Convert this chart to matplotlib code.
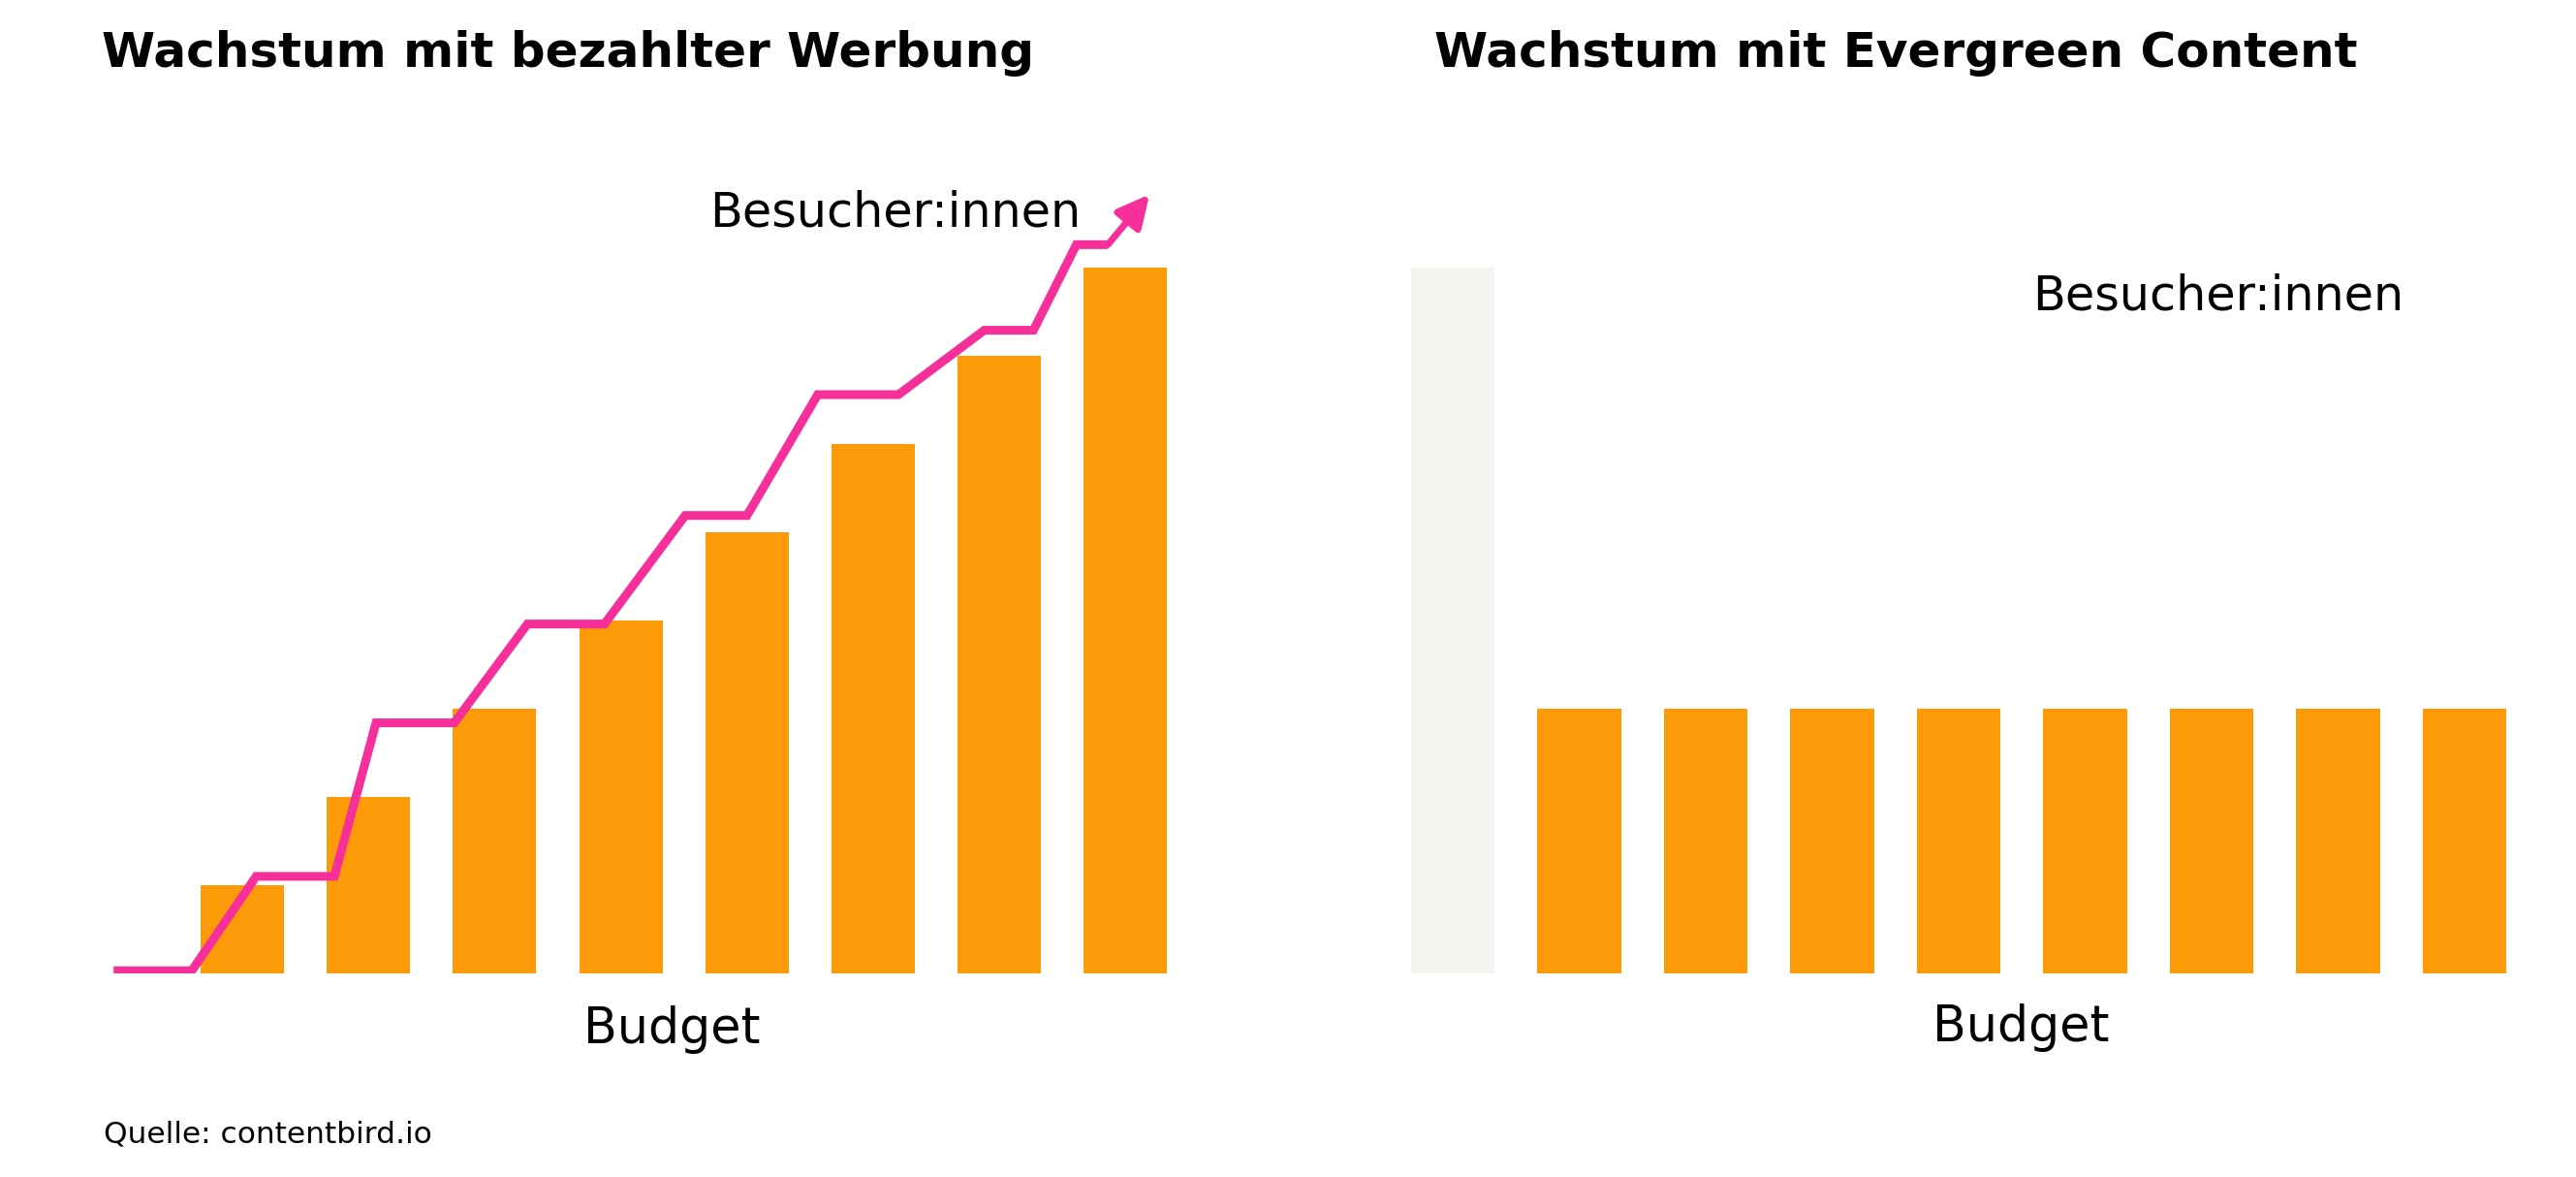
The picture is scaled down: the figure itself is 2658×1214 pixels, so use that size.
import matplotlib
matplotlib.use("Agg")
import matplotlib.pyplot as plt

# left panel: paid ads
paid_budget = [1, 2, 3, 4, 5, 6, 7, 8]
paid_x = [1, 2, 3, 4, 5, 6, 7, 8]
visitors_x = [-0.02, 0.60, 1.11, 1.73, 2.06, 2.68, 3.26, 3.87, 4.51, 5.00, 5.56, 6.20, 6.88, 7.27, 7.61, 7.86]
visitors_y = [0.03, 0.03, 1.10, 1.10, 2.84, 2.84, 3.96, 3.96, 5.19, 5.19, 6.56, 6.56, 7.29, 7.29, 8.26, 8.26]
arrow_tip = (8.19, 8.83)

# right panel: evergreen content
ever_visitors = 8
ever_budget = [3, 3, 3, 3, 3, 3, 3, 3]
ever_x = [1, 2, 3, 4, 5, 6, 7, 8]

ORANGE = "#FD9A08"
PINK = "#F72F9B"
GREY = "#F5F4EF"

W, H = 2658, 1214
fig = plt.figure(figsize=(W / 100, H / 100), dpi=100)


def px_axes(x0, x1, y_top, y_bot):
    return fig.add_axes([x0 / W, 1 - y_bot / H, (x1 - x0) / W, (y_bot - y_top) / H])


# pixel -> data: x = (px - c0)/step, y = (1004 - py)/91
ax1 = px_axes(100, 1230, 150, 1004)
ax1.set_xlim((100 - 250) / 130.2 + 1, (1230 - 250) / 130.2 + 1)
ax1.set_ylim(0, (1004 - 150) / 91)
ax1.bar(paid_x, paid_budget, width=0.66, color=ORANGE, zorder=1)
ax1.plot(visitors_x, visitors_y, color=PINK, linewidth=6.5, solid_joinstyle="miter",
         solid_capstyle="butt", zorder=2)
ax1.annotate("", xy=arrow_tip, xytext=(visitors_x[-1], visitors_y[-1]),
             arrowprops=dict(arrowstyle="-|>,head_length=0.5,head_width=0.25", color=PINK,
                             lw=5, joinstyle="round", mutation_scale=40, shrinkA=0, shrinkB=0))

ax2 = px_axes(1400, 2640, 150, 1004)
ax2.set_xlim((1400 - 1499) / 130.5, (2640 - 1499) / 130.5)
ax2.set_ylim(0, (1004 - 150) / 91)
ax2.bar([0], [ever_visitors], width=0.66, color=GREY)
ax2.bar(ever_x, ever_budget, width=0.66, color=ORANGE)

for ax in (ax1, ax2):
    ax.axis("off")


def ftext(px, py, s, **kw):
    fig.text(px / W, 1 - py / H, s, **kw)


ftext(105, 69, "Wachstum mit bezahlter Werbung", fontsize=36, fontweight="bold", va="baseline")
ftext(1480, 69, "Wachstum mit Evergreen Content", fontsize=36, fontweight="bold", va="baseline")
ftext(732, 234, "Besucher:innen", fontsize=35.5, va="baseline")
ftext(2097, 319, "Besucher:innen", fontsize=35.5, va="baseline")
ftext(693, 1076, "Budget", fontsize=36.5, ha="center", va="baseline")
ftext(2085, 1074, "Budget", fontsize=36.5, ha="center", va="baseline")
ftext(107, 1178, "Quelle: contentbird.io", fontsize=22.5, va="baseline")

fig.savefig("out.png", dpi=100)
